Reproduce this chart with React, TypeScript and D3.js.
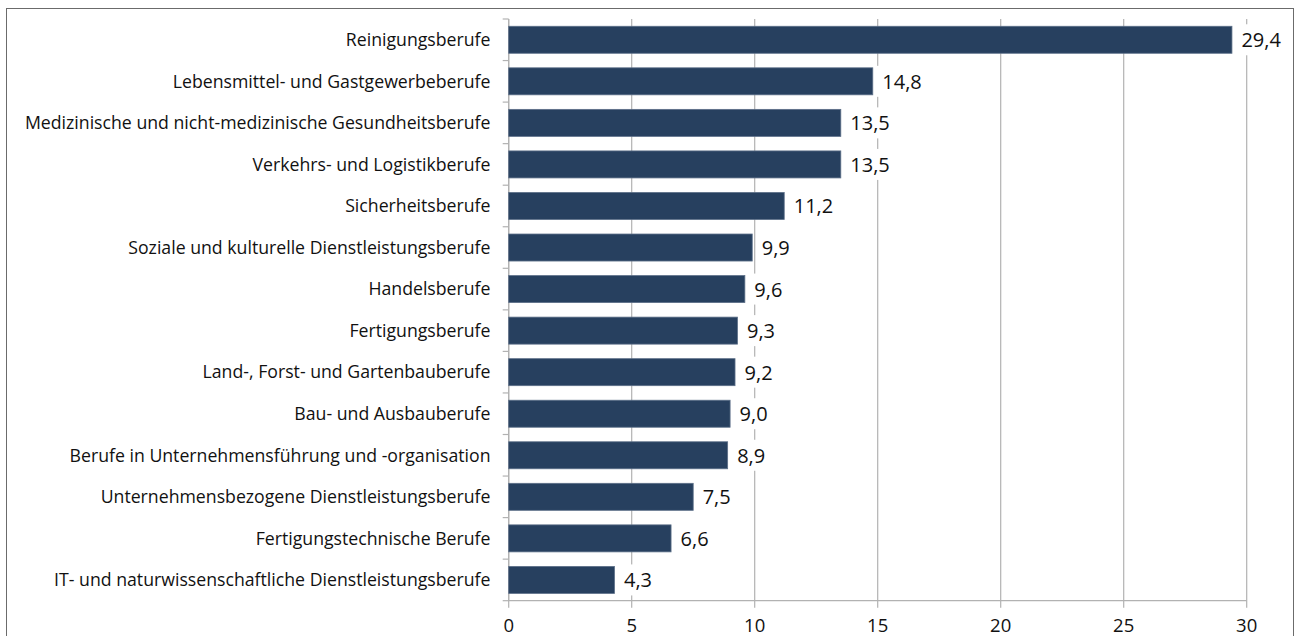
import React from "react";
import * as d3 from "d3";

const categories = [
  "Reinigungsberufe",
  "Lebensmittel- und Gastgewerbeberufe",
  "Medizinische und nicht-medizinische Gesundheitsberufe",
  "Verkehrs- und Logistikberufe",
  "Sicherheitsberufe",
  "Soziale und kulturelle Dienstleistungsberufe",
  "Handelsberufe",
  "Fertigungsberufe",
  "Land-, Forst- und Gartenbauberufe",
  "Bau- und Ausbauberufe",
  "Berufe in Unternehmensführung und -organisation",
  "Unternehmensbezogene Dienstleistungsberufe",
  "Fertigungstechnische Berufe",
  "IT- und naturwissenschaftliche Dienstleistungsberufe",
];
const values = [29.4, 14.8, 13.5, 13.5, 11.2, 9.9, 9.6, 9.3, 9.2, 9.0, 8.9, 7.5, 6.6, 4.3];
const xTicks = [0, 5, 10, 15, 20, 25, 30];

const W = 1298;
const H = 636;
const left = 508.7;
const right = 1246.7;
const top = 19;
const bottom = 600.7;
const FONT = "'Open Sans', sans-serif";
const fmt = (v: number) => d3.format(".1f")(v).replace(".", ",");

export default function App() {
  const x = d3.scaleLinear().domain([0, 30]).range([left, right]);
  const y = d3
    .scaleBand<string>()
    .domain(categories)
    .range([top, bottom])
    .paddingInner(0.35)
    .paddingOuter(0.175);
  const step = y.step();
  const grid = "#b2b2b2";
  const valueFont = 20;
  return (
    <svg
      width={W}
      height={H}
      style={{ position: "absolute", left: 0, top: 0 }}
      fontFamily={FONT}
    >
      <rect x={0} y={0} width={W} height={H} fill="#fff" />
      <rect x={6.5} y={8.5} width={1287} height={700} fill="none" stroke="#6b6b6b" strokeWidth={1} />
      {/* gridlines */}
      {xTicks.map((t) => (
        <line key={"g" + t} x1={x(t)} x2={x(t)} y1={top} y2={bottom + 7} stroke={grid} strokeWidth={1.2} />
      ))}
      {/* y axis */}
      <line x1={left} x2={left} y1={top} y2={bottom} stroke={grid} strokeWidth={1.2} />
      {d3.range(categories.length + 1).map((i) => (
        <line key={"yt" + i} x1={left - 6} x2={left} y1={top + i * step} y2={top + i * step} stroke={grid} strokeWidth={1.2} />
      ))}
      {/* x axis */}
      <line x1={left} x2={right} y1={bottom} y2={bottom} stroke={grid} strokeWidth={1.2} />
      {/* bars */}
      {categories.map((c, i) => (
        <rect
          key={c}
          x={x(0)}
          y={y(c)!}
          width={x(values[i]) - x(0)}
          height={y.bandwidth()}
          fill="#27405f"
          stroke="#5c6f88"
          strokeWidth={0.8}
        />
      ))}
      {/* value labels */}
      {categories.map((c, i) => {
        const cy = y(c)! + y.bandwidth() / 2;
        const tx = x(values[i]) + 9.5;
        const tw = fmt(values[i]).length * 0.55 * valueFont;
        return (
          <g key={"v" + c}>
            <rect x={x(values[i]) + 4} y={cy - 15.5} width={tw + 10} height={31} fill="#fff" />
            <text x={tx} y={cy + 7.5} fontSize={valueFont} fill="#111">
              {fmt(values[i])}
            </text>
          </g>
        );
      })}
      {/* category labels */}
      {categories.map((c) => (
        <text
          key={"c" + c}
          x={490.5}
          y={y(c)! + y.bandwidth() / 2 + 6.3}
          textAnchor="end"
          fontSize={17.7}
          fill="#111"
        >
          {c}
        </text>
      ))}
      {/* x tick labels */}
      {xTicks.map((t) => (
        <text key={"xl" + t} x={x(t)} y={631.5} textAnchor="middle" fontSize={18.5} fill="#111">
          {t}
        </text>
      ))}
    </svg>
  );
}
